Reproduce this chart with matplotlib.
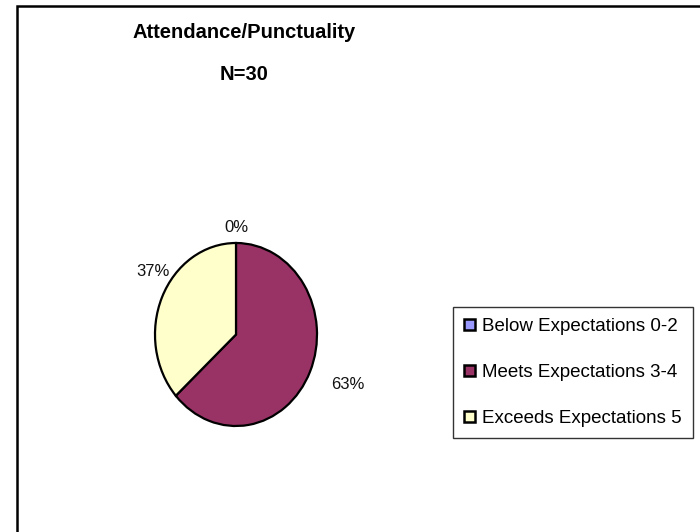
import matplotlib
matplotlib.use("Agg")
import matplotlib.pyplot as plt
from matplotlib.patches import Rectangle, Patch

# Ratings for attendance/punctuality (N=30)
categories = ["Below Expectations 0-2", "Meets Expectations 3-4", "Exceeds Expectations 5"]
counts = [0, 19, 11]
colors = ["#9999FF", "#993366", "#FFFFCC"]
title_lines = ["Attendance/Punctuality", "N=30"]

# where each percentage label sits, in pie-axes data units
label_pos = [(0.0, 1.17), (1.38, -0.55), (-1.02, 0.69)]

plt.rcParams["font.family"] = ["Liberation Sans", "DejaVu Sans"]

fig = plt.figure(figsize=(7.0, 5.32), dpi=100)
W, H = 700, 532

# chart-area border (runs off the right and bottom edges)
fig.patches.append(Rectangle((17 / W, -0.05), 1.2, 1 - 6 / H + 0.05,
                             transform=fig.transFigure, fill=False,
                             edgecolor="black", linewidth=1.8, zorder=0))

# pie drawn inside a slightly tall, non-square box
ax = fig.add_axes([155 / W, 1 - 426 / H, 162 / W, 183 / H])
wedges, texts, autotexts = ax.pie(
    counts, colors=colors, startangle=90, counterclock=False,
    autopct=lambda p: f"{p:.0f}%", pctdistance=1.22,
    wedgeprops=dict(edgecolor="black", linewidth=1.6),
    textprops=dict(fontsize=12, color="#111111"),
)
for t, pos in zip(autotexts, label_pos):
    t.set_position(pos)
    t.set_clip_on(False)
ax.set_aspect("auto")
ax.set_xlim(-1.0, 1.0)
ax.set_ylim(-1.0, 1.0)
ax.axis("off")

# title
for line, ypx in zip(title_lines, (33, 75)):
    fig.text(244 / W, 1 - ypx / H, line, ha="center", va="center",
             fontsize=14.5, fontweight="bold")

# legend
handles = [Patch(facecolor=c, edgecolor="black", linewidth=1.8) for c in colors]
leg = fig.legend(handles, categories, loc="upper left",
                 bbox_to_anchor=(453 / W, 1 - 307 / H),
                 bbox_transform=fig.transFigure,
                 frameon=True, fancybox=False, fontsize=13.5,
                 handlelength=0.55, handleheight=0.55, handletextpad=0.4,
                 labelspacing=1.54, borderpad=0.6, borderaxespad=0)
leg.get_frame().set_edgecolor("black")
leg.get_frame().set_linewidth(1.0)

fig.savefig("out.png", dpi=100)
